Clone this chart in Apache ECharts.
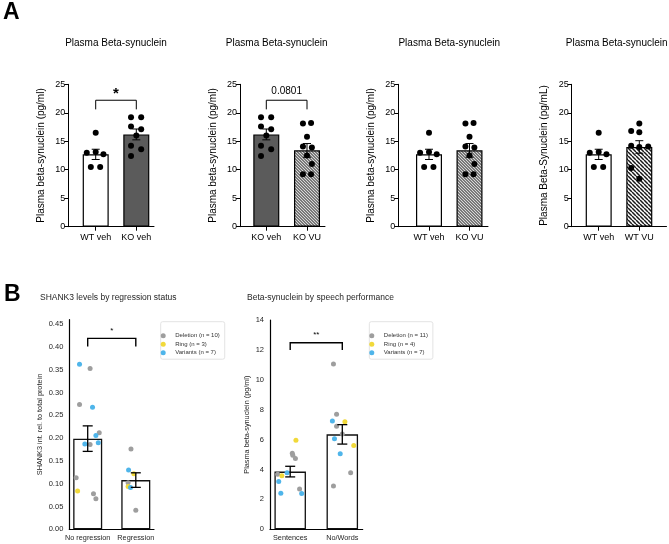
<!DOCTYPE html>
<html>
<head>
<meta charset="utf-8">
<script src="https://cdn.jsdelivr.net/npm/echarts@6/dist/echarts.min.js"></script>
<style>
  html, body { margin: 0; background: #fff; }
  #main { width: 669px; height: 544px; }
</style>
</head>
<body>
<div id="main"></div>
<script>
// ---------- A: plasma beta-synuclein (pg/ml) ----------
const groupNames = ['WT veh', 'KO veh', 'KO VU', 'WT VU']
const groupMeans = [12.7, 16.2, 13.4, 14.0]
const groupSems = [0.9, 0.95, 1.2, 1.1]
// 每个点: [横向抖动, 数值]
const wtVehDots = [[0, 16.5], [-0.22, 13.0], [0, 13.1], [0.19, 12.7], [-0.12, 10.5], [0.11, 10.5]]
const koVehDots = [[-0.13, 19.2], [0.12, 19.2], [-0.13, 17.6], [0.12, 17.1], [0, 16.0], [-0.13, 14.2], [0.12, 13.6], [-0.13, 12.4]]
const koVuDots = [[-0.1, 18.1], [0.1, 18.2], [0, 15.8], [-0.1, 14.1], [0.12, 13.9], [0, 12.5], [0.12, 11.0], [-0.1, 9.2], [0.1, 9.2]]
const wtVuDots = [[0, 18.1], [-0.2, 16.8], [0, 16.6], [-0.2, 14.2], [0, 14.0], [0.22, 14.1], [-0.2, 10.3], [0, 8.4]]
const groupDots = [wtVehDots, koVehDots, koVuDots, wtVuDots]
const yTicksA = [0, 5, 10, 15, 20, 25]

const panelGroups = [[0, 1], [1, 2], [0, 2], [0, 3]]
const panelTitles = ['Plasma Beta-synuclein', 'Plasma Beta-synuclein', 'Plasma Beta-synuclein', 'Plasma Beta-synuclein']
const panelYNames = ['Plasma beta-synuclein (pg/ml)', 'Plasma beta-synuclein (pg/ml)', 'Plasma beta-synuclein (pg/ml)', 'Plasma Beta-Synuclein (pg/mL)']
// [文字, 横线高度, 竖线底部]
const panelBrackets = [['*', 22.2, 20.6], ['0.0801', 22.2, 20.6], null, null]

// ---------- B: patient data ----------
const regressionCats = ['No regression', 'Regression']
const shankMeans = [0.199, 0.108]
const shankSems = [0.028, 0.016]
// [类别, 抖动, 数值]
const shankDeletion = [[0, 0.05, 0.353], [0, -0.17, 0.274], [0, 0.24, 0.212], [0, 0.05, 0.186], [0, -0.24, 0.113], [0, 0.12, 0.078], [0, 0.17, 0.067], [1, -0.10, 0.176], [1, -0.16, 0.102], [1, 0, 0.042]]
const shankRing = [[0, -0.21, 0.084], [1, -0.04, 0.122], [1, -0.16, 0.094]]
const shankVariants = [[0, -0.17, 0.362], [0, 0.10, 0.268], [0, 0.17, 0.206], [0, -0.06, 0.187], [0, 0.22, 0.190], [1, -0.15, 0.130], [1, -0.11, 0.092]]
const shankNames = ['Deletion (n = 10)', 'Ring (n = 3)', 'Variants (n = 7)']
const shankBracket = ['*', 0.419, 0.401]
const yTicksShank = [0, 0.05, 0.10, 0.15, 0.20, 0.25, 0.30, 0.35, 0.40, 0.45]

const speechCats = ['Sentences', 'No/Words']
const speechMeans = [3.86, 6.35]
const speechSems = [0.355, 0.65]
const speechDeletion = [[0, 0.04, 5.08], [0, 0.05, 4.95], [0, 0.10, 4.73], [0, -0.24, 3.68], [0, 0.18, 2.70], [1, -0.17, 11.06], [1, -0.11, 7.69], [1, -0.11, 6.89], [1, 0, 6.38], [1, 0.16, 3.79], [1, -0.17, 2.90]]
const speechRing = [[0, 0.11, 5.95], [0, -0.16, 3.59], [1, 0.05, 7.20], [1, 0.22, 5.60]]
const speechVariants = [[0, -0.06, 3.79], [0, -0.22, 3.19], [0, -0.18, 2.41], [0, 0.22, 2.39], [1, -0.19, 7.24], [1, -0.15, 6.06], [1, -0.04, 5.06]]
const speechNames = ['Deletion (n = 11)', 'Ring (n = 4)', 'Variants (n = 7)']
const speechBracket = ['**', 12.48, 11.99]
const yTicksSpeech = [0, 2, 4, 6, 8, 10, 12, 14]

const FONT = "'Liberation Sans', Arial, Helvetica, sans-serif"
const genoColors = ['#9e9e9e', '#f1d93a', '#4fb5ea']

// 斜线填充
function hatch(bg, fg, size, lw) {
  const c = document.createElement('canvas')
  c.width = c.height = size
  const g = c.getContext('2d')
  g.fillStyle = bg
  g.fillRect(0, 0, size, size)
  g.strokeStyle = fg
  g.lineWidth = lw
  g.beginPath()
  for (const x0 of [-size, 0, size]) {
    g.moveTo(x0, 0)
    g.lineTo(x0 + size, size)
  }
  g.stroke()
  return { image: c, repeat: 'repeat' }
}
const groupFills = ['#ffffff', '#5b5b5b', hatch('#7a7a7a', '#d8d8d8', 3, 1), hatch('#ffffff', '#1a1a1a', 4, 1.5)]

function errRender(cap, lw) {
  return function (params, api) {
    const x = api.value(0), m = api.value(1), s = api.value(2)
    const hi = api.coord([x, m + s]), lo = api.coord([x, m - s])
    const st = { stroke: '#000', lineWidth: lw }
    return {
      type: 'group', children: [
        { type: 'line', shape: { x1: hi[0], y1: hi[1], x2: lo[0], y2: lo[1] }, style: st },
        { type: 'line', shape: { x1: hi[0] - cap, y1: hi[1], x2: hi[0] + cap, y2: hi[1] }, style: st },
        { type: 'line', shape: { x1: lo[0] - cap, y1: lo[1], x2: lo[0] + cap, y2: lo[1] }, style: st },
      ],
    }
  }
}

function bracketRender(label, fontSize, lw, textDy, bold) {
  return function (params, api) {
    const a = api.coord([api.value(0), api.value(3)])
    const b = api.coord([api.value(1), api.value(2)])
    return {
      type: 'group', children: [
        { type: 'polyline', shape: { points: [[a[0], a[1]], [a[0], b[1]], [b[0], b[1]], [b[0], a[1]]] }, style: { stroke: '#000', lineWidth: lw, fill: null } },
        { type: 'text', x: (a[0] + b[0]) / 2, y: b[1] - textDy, style: { text: label, align: 'center', verticalAlign: 'middle', fontSize, fontWeight: bold ? 'bold' : 'normal', fontFamily: FONT, fill: '#000' } },
      ],
    }
  }
}

const grids = [], xAxes = [], yAxes = [], series = [], graphics = [], legends = []

function txt(text, x, y, size, extra) {
  graphics.push({ type: 'text', x, y, silent: true, style: Object.assign({ text, fontSize: size, fontFamily: FONT, fill: '#000', align: 'center', verticalAlign: 'middle' }, extra || {}) })
}

// ---------- A 面板 ----------
const layoutsA = [
  { axis: 68.3, c0: 95.7, unit: 40.6, end: 154, titleX: 116 },
  { axis: 240, c0: 266.3, unit: 40.7, end: 325, titleX: 276.7 },
  { axis: 398.3, c0: 429, unit: 40.5, end: 488, titleX: 449.3 },
  { axis: 571.7, c0: 598.7, unit: 40.6, end: 666.5, titleX: 616.7 },
]

panelGroups.forEach((pair, i) => {
  const L = layoutsA[i]
  grids.push({ left: L.axis, top: 84.3, width: L.end - L.axis, height: 142.4, outerBoundsMode: 'none' })
  xAxes.push({
    type: 'value', gridIndex: i,
    min: -(L.c0 - L.axis) / L.unit, max: (L.end - L.c0) / L.unit,
    axisLine: { show: true, onZero: false, lineStyle: { color: '#000', width: 1 } },
    axisTick: { show: true, customValues: [0, 1], length: 4, lineStyle: { color: '#000' } },
    axisLabel: { customValues: [0, 1], formatter: v => groupNames[pair[Math.round(v)]], fontSize: 9, color: '#000', margin: 6, fontFamily: FONT },
    splitLine: { show: false },
  })
  yAxes.push({
    type: 'value', gridIndex: i, min: 0, max: 25,
    axisLine: { show: true, onZero: false, lineStyle: { color: '#000', width: 1 } },
    axisTick: { show: true, customValues: yTicksA, length: 4, lineStyle: { color: '#000' } },
    axisLabel: { customValues: yTicksA, fontSize: 9, color: '#000', margin: 3, fontFamily: FONT },
    splitLine: { show: false },
    name: panelYNames[i], nameLocation: 'middle', nameGap: 22,
    nameTextStyle: { fontSize: 10, color: '#000', fontFamily: FONT },
  })
  series.push({
    type: 'bar', xAxisIndex: i, yAxisIndex: i, barWidth: 26, z: 2,
    data: pair.map((g, k) => ({ value: [k, groupMeans[g]], itemStyle: { color: groupFills[g], borderColor: '#000', borderWidth: 1.2 } })),
  })
  series.push({
    type: 'custom', xAxisIndex: i, yAxisIndex: i, z: 3,
    renderItem: errRender(4, 1),
    data: pair.map((g, k) => [k, groupMeans[g], groupSems[g]]),
  })
  series.push({
    type: 'scatter', xAxisIndex: i, yAxisIndex: i, z: 4, symbolSize: 6,
    itemStyle: { color: '#000', opacity: 1 },
    data: pair.flatMap((g, k) => groupDots[g].map(d => [k + d[0], d[1]])),
  })
  const br = panelBrackets[i]
  if (br) {
    const star = br[0] === '*'
    series.push({
      type: 'custom', xAxisIndex: i, yAxisIndex: i, z: 5,
      renderItem: bracketRender(br[0], star ? 15 : 10, 1, star ? 6 : 9, star),
      data: [[0, 1, br[1], br[2]]],
    })
  }
  txt(panelTitles[i], L.titleX, 43.5, 10)
})

// ---------- B 面板 ----------
const panelsB = [
  { cats: regressionCats, means: shankMeans, sems: shankSems, dots: [shankDeletion, shankRing, shankVariants], names: shankNames, ticks: yTicksShank, max: 0.46, fmt: v => v.toFixed(2), bracket: shankBracket, title: 'SHANK3 levels by regression status', yName: 'SHANK3 int. rel. to total protein' },
  { cats: speechCats, means: speechMeans, sems: speechSems, dots: [speechDeletion, speechRing, speechVariants], names: speechNames, ticks: yTicksSpeech, max: 14, fmt: v => String(v), bracket: speechBracket, title: 'Beta-synuclein by speech performance', yName: 'Plasma beta-synuclein (pg/ml)' },
]
const layoutsB = [
  { axis: 69.3, c0: 87.7, unit: 48.1, end: 154, top: 319.7, bottom: 529.3, barWidth: 29, titleX: 40, legendX: 160.7, genoX: 189, nameGap: 26 },
  { axis: 270, c0: 290.2, unit: 52.1, end: 362.7, top: 320, bottom: 529.3, barWidth: 31.5, titleX: 247, legendX: 369.3, genoX: 396, nameGap: 20 },
]

panelsB.forEach((P, j) => {
  const L = layoutsB[j]
  const i = 4 + j
  grids.push({ left: L.axis, top: L.top, width: L.end - L.axis, height: L.bottom - L.top, outerBoundsMode: 'none' })
  xAxes.push({
    type: 'value', gridIndex: i,
    min: -(L.c0 - L.axis) / L.unit, max: (L.end - L.c0) / L.unit,
    axisLine: { show: true, onZero: false, lineStyle: { color: '#000', width: 1.2 } },
    axisTick: { show: false },
    axisLabel: { customValues: [0, 1], formatter: v => P.cats[Math.round(v)], fontSize: 7.3, color: '#262626', margin: 5, fontFamily: FONT },
    splitLine: { show: false },
  })
  yAxes.push({
    type: 'value', gridIndex: i, min: 0, max: P.max,
    axisLine: { show: true, onZero: false, lineStyle: { color: '#000', width: 1.2 } },
    axisTick: { show: false },
    axisLabel: { customValues: P.ticks, formatter: P.fmt, fontSize: 7.5, color: '#262626', margin: 6, fontFamily: FONT },
    splitLine: { show: false },
    name: P.yName, nameLocation: 'middle', nameGap: L.nameGap,
    nameTextStyle: { fontSize: 7.3, color: '#262626', fontFamily: FONT },
  })
  series.push({
    type: 'bar', xAxisIndex: i, yAxisIndex: i, barWidth: L.barWidth, z: 2,
    itemStyle: { color: '#fff', borderColor: '#111', borderWidth: 1.3 },
    data: P.means.map((m, k) => [k, m]),
  })
  P.dots.forEach((arr, g) => {
    series.push({
      type: 'scatter', name: P.names[g], xAxisIndex: i, yAxisIndex: i, z: 3, symbolSize: 5,
      itemStyle: { color: genoColors[g], opacity: 1 },
      data: arr.map(d => [d[0] + d[1], d[2]]),
    })
  })
  series.push({
    type: 'custom', xAxisIndex: i, yAxisIndex: i, z: 4,
    renderItem: errRender(5, 1.3),
    data: P.means.map((m, k) => [k, m, P.sems[k]]),
  })
  series.push({
    type: 'custom', xAxisIndex: i, yAxisIndex: i, z: 5,
    renderItem: bracketRender(P.bracket[0], 8, 1.4, 8, false),
    data: [[0, 1, P.bracket[1], P.bracket[2]]],
  })
  legends.push({
    data: P.names, orient: 'vertical', left: L.legendX, top: 321.7,
    icon: 'circle', itemWidth: 14, itemHeight: 5, itemGap: 2.5,
    padding: [11, 5, 3.5, 0], borderColor: '#e3e3e3', borderWidth: 1, borderRadius: 2,
    backgroundColor: '#fff', selectedMode: false,
    textStyle: { fontSize: 6, lineHeight: 6, color: '#333', fontFamily: FONT },
  })
  txt('Genotype', L.genoX, 327.3, 6.5, { fill: '#333' })
  txt(P.title, L.titleX, 297.5, 8.5, { align: 'left', fill: '#262626' })
})

txt('A', 3, 13, 23, { align: 'left', fontWeight: 'bold' })
txt('B', 4, 295, 23, { align: 'left', fontWeight: 'bold' })

const chart = echarts.init(document.getElementById('main'))
chart.setOption({
  animation: false,
  backgroundColor: '#fff',
  textStyle: { fontFamily: FONT },
  grid: grids,
  xAxis: xAxes,
  yAxis: yAxes,
  legend: legends,
  graphic: graphics,
  series,
})
</script>
</body>
</html>
